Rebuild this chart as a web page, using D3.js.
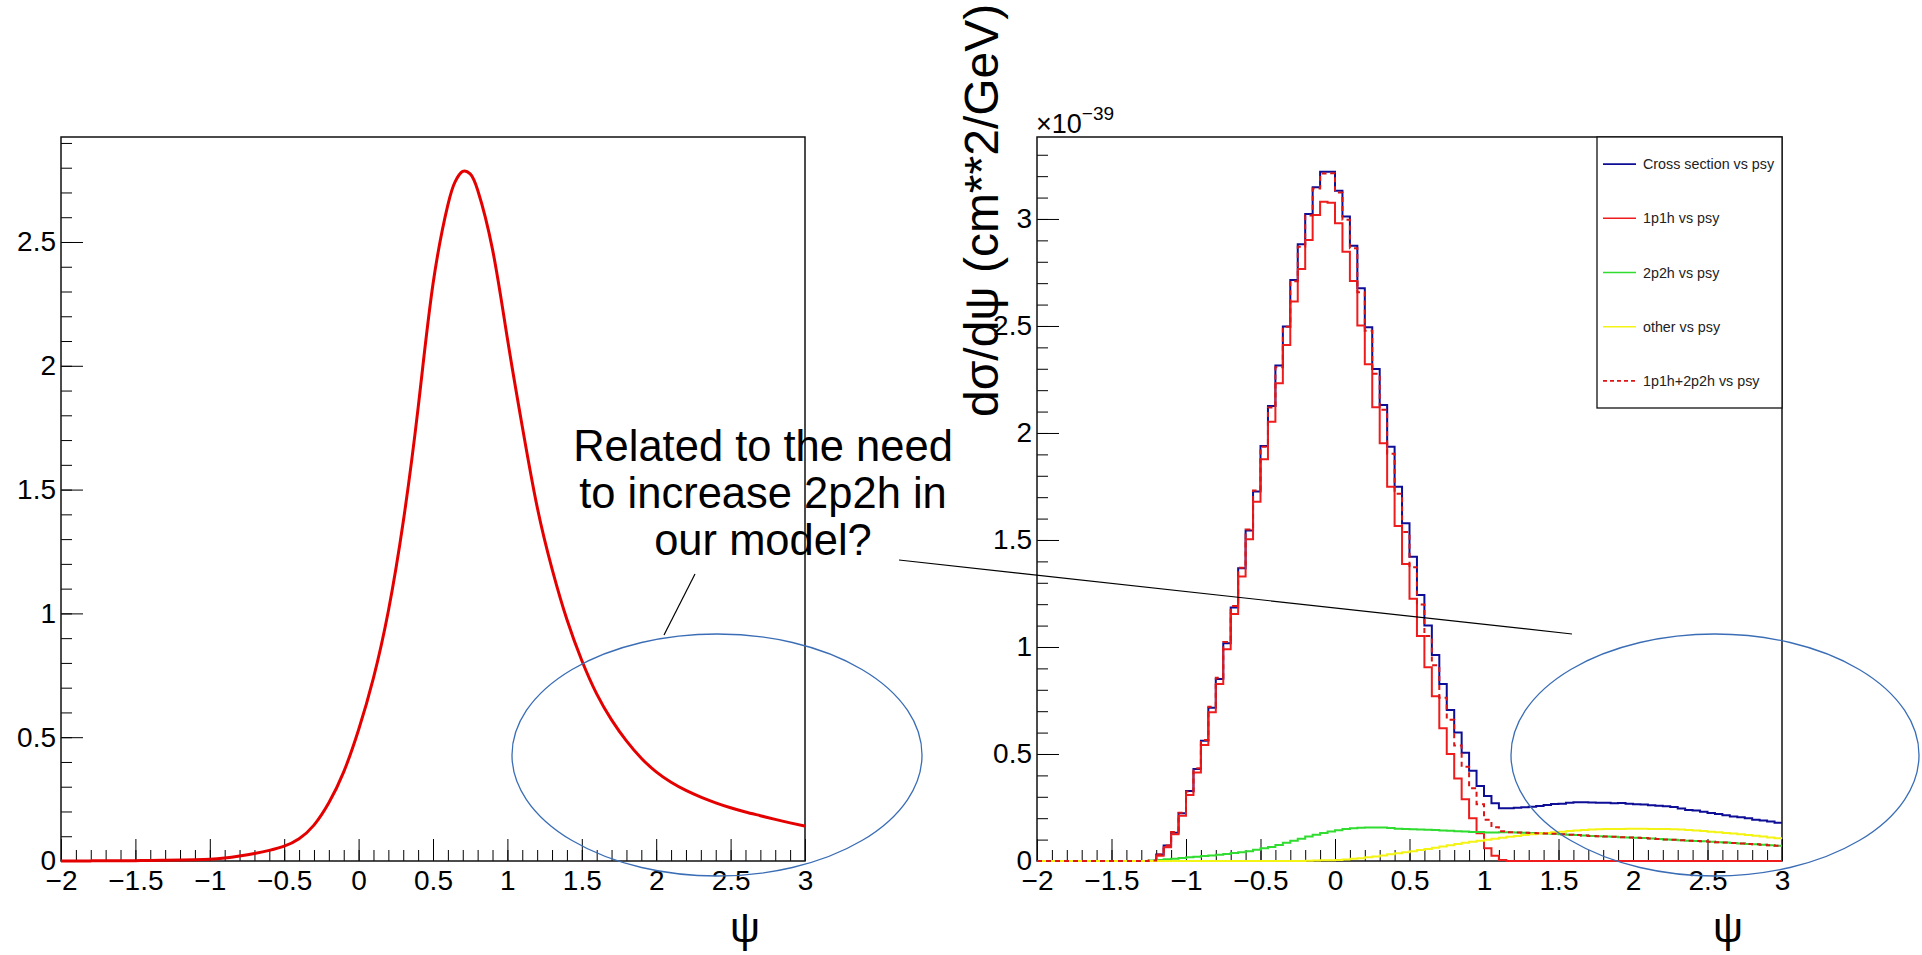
<!DOCTYPE html>
<html>
<head>
<meta charset="utf-8">
<script src="https://cdn.jsdelivr.net/npm/d3@7"></script>
<style>
  html, body { margin: 0; padding: 0; background: #fff; }
  svg { display: block; font-family: "Liberation Sans", Arial, sans-serif; }
</style>
</head>
<body>
<div id="chart"></div>
<script>
// left panel: smooth model curve
var leftPsi = [-2, -1.9, -1.8, -1.7, -1.6, -1.5, -1.4, -1.3, -1.2, -1.1, -1, -0.9, -0.8, -0.7, -0.6, -0.5, -0.4, -0.3, -0.2, -0.1,
  0, 0.1, 0.2, 0.3, 0.4, 0.5, 0.6, 0.65, 0.7, 0.75, 0.8, 0.9, 1, 1.1, 1.2, 1.3, 1.4, 1.5, 1.6, 1.7, 1.8, 1.9,
  2, 2.1, 2.2, 2.3, 2.4, 2.5, 2.6, 2.7, 2.8, 2.9, 3];
var leftValues = [0, 0, 0.0005, 0.001, 0.001, 0.0015, 0.002, 0.003, 0.004, 0.005, 0.007, 0.012, 0.02, 0.03, 0.043, 0.06, 0.09, 0.145, 0.235, 0.36,
  0.53, 0.74, 1.01, 1.37, 1.83, 2.33, 2.65, 2.745, 2.785, 2.775, 2.71, 2.47, 2.11, 1.755, 1.43, 1.18, 0.975, 0.81, 0.675, 0.57, 0.485, 0.415,
  0.36, 0.318, 0.285, 0.258, 0.235, 0.215, 0.198, 0.183, 0.168, 0.154, 0.141];

// right panel: histograms, 100 bins of 0.05 from -2 to 3 (units 1e-39)
var crossSection = [0, 0, 0, 0, 0, 0, 0, 0, 0, 0, 0, 0, 0, 0, 0, 0,
  0.03, 0.072, 0.132, 0.223, 0.327, 0.43, 0.562, 0.716, 0.85, 1.017, 1.185, 1.368, 1.544, 1.726, 1.939, 2.126, 2.315, 2.497, 2.715, 2.882,
  3.023, 3.148, 3.221, 3.221, 3.132, 3.011, 2.875, 2.676, 2.494, 2.299, 2.131, 1.936, 1.749, 1.578, 1.422, 1.243, 1.10, 0.963, 0.827, 0.706,
  0.600, 0.506, 0.422, 0.350, 0.304, 0.270,
  0.246, 0.247, 0.249, 0.251, 0.254, 0.257, 0.262, 0.266, 0.268, 0.272, 0.274, 0.275, 0.273, 0.272, 0.272, 0.270, 0.271, 0.268, 0.265,
  0.264, 0.261, 0.258, 0.256, 0.252, 0.245, 0.238, 0.236, 0.230, 0.224, 0.220, 0.214, 0.208, 0.204, 0.200, 0.193, 0.189, 0.185, 0.179];
var onePoneH = [0, 0, 0, 0, 0, 0, 0, 0, 0, 0, 0, 0, 0, 0, 0, 0,
  0.025, 0.064, 0.125, 0.212, 0.308, 0.413, 0.542, 0.695, 0.827, 0.99, 1.154, 1.329, 1.503, 1.679, 1.877, 2.053, 2.232, 2.411, 2.614, 2.766,
  2.902, 3.019, 3.081, 3.076, 2.98, 2.847, 2.71, 2.502, 2.321, 2.12, 1.952, 1.749, 1.565, 1.388, 1.225, 1.051, 0.905, 0.77, 0.62, 0.50,
  0.386, 0.288, 0.20, 0.13, 0.06, 0.025, 0.005,
  0, 0, 0, 0, 0, 0, 0, 0, 0, 0, 0, 0, 0, 0, 0, 0, 0, 0, 0, 0, 0, 0, 0, 0, 0, 0, 0, 0, 0, 0, 0, 0, 0, 0, 0, 0, 0];
var twoPtwoH = [0, 0, 0, 0, 0, 0, 0, 0, 0, 0, 0, 0, 0, 0, 0,
  0.002, 0.005, 0.008, 0.011, 0.014, 0.017, 0.02, 0.023, 0.026, 0.029, 0.033, 0.037, 0.041, 0.046, 0.052, 0.059, 0.066, 0.075, 0.085, 0.095,
  0.104, 0.114, 0.123, 0.131, 0.138, 0.144, 0.149, 0.153, 0.155, 0.157, 0.157, 0.156, 0.154, 0.151, 0.149, 0.148, 0.147, 0.146, 0.145, 0.143,
  0.141, 0.139, 0.138, 0.136, 0.135, 0.133, 0.133, 0.134, 0.134, 0.133, 0.132, 0.131, 0.13, 0.129, 0.127, 0.125, 0.123, 0.121, 0.119, 0.117,
  0.116, 0.114, 0.113, 0.111, 0.11, 0.109, 0.107, 0.105, 0.103, 0.101, 0.099, 0.097, 0.095, 0.094, 0.092, 0.09, 0.088, 0.086, 0.084, 0.082,
  0.08, 0.078, 0.076, 0.074, 0.071];
var otherXsec = [0, 0, 0, 0, 0, 0, 0, 0, 0, 0, 0, 0, 0, 0, 0, 0, 0, 0, 0, 0, 0, 0, 0, 0, 0, 0, 0, 0, 0, 0, 0, 0, 0, 0, 0, 0,
  0.001, 0.002, 0.003, 0.004, 0.005, 0.007, 0.01, 0.013, 0.017, 0.021, 0.026, 0.031, 0.036, 0.041, 0.046, 0.051, 0.056, 0.062, 0.068, 0.074,
  0.08, 0.085, 0.09, 0.095, 0.099, 0.104, 0.109, 0.113, 0.117, 0.121, 0.125, 0.128, 0.131, 0.134, 0.137, 0.14, 0.143, 0.145, 0.147, 0.148,
  0.149, 0.15, 0.15, 0.151, 0.151, 0.151, 0.15, 0.15, 0.149, 0.148, 0.147, 0.145, 0.143, 0.14, 0.137, 0.134, 0.131, 0.128, 0.125, 0.122,
  0.118, 0.114, 0.11, 0.106];
var onePplusTwoP = [0, 0, 0, 0, 0, 0, 0, 0, 0, 0, 0, 0, 0, 0, 0,
  0.002, 0.03, 0.072, 0.136, 0.226, 0.325, 0.433, 0.565, 0.721, 0.856, 1.023, 1.191, 1.37, 1.549, 1.731, 1.936, 2.119, 2.307, 2.496, 2.709,
  2.87, 3.016, 3.142, 3.212, 3.214, 3.124, 2.996, 2.863, 2.657, 2.478, 2.277, 2.108, 1.903, 1.716, 1.537, 1.373, 1.198, 1.051, 0.915, 0.763,
  0.66, 0.54, 0.44, 0.34, 0.265, 0.193, 0.158, 0.139,
  0.134, 0.133, 0.132, 0.131, 0.13, 0.129, 0.127, 0.125, 0.123, 0.121, 0.119, 0.117, 0.116, 0.114, 0.113, 0.111, 0.11, 0.109, 0.107, 0.105,
  0.103, 0.101, 0.099, 0.097, 0.095, 0.094, 0.092, 0.09, 0.088, 0.086, 0.084, 0.082, 0.08, 0.078, 0.076, 0.074, 0.071];

var legendLabels = ['Cross section vs psy', '1p1h vs psy', '2p2h vs psy', 'other vs psy', '1p1h+2p2h vs psy'];
var noteLines = ['Related to the need', 'to increase 2p2h in', 'our model?'];

(function(window, d3){
  'use strict';

  var W = 1922, H = 955;
  var fmt = d3.format('~g');
  var binWidth = 0.05;

  var svg = d3.select('#chart').append('svg')
    .attr('width', W)
    .attr('height', H);

  svg.append('rect').attr('width', W).attr('height', H).attr('fill', '#fff');

  // draws frame + ROOT style inward ticks
  var drawFrame = function(x, y, yMajor, yMinor) {
    var g = svg.append('g');
    var x0 = x.range()[0], x1 = x.range()[1];
    var y0 = y.range()[0], y1 = y.range()[1];

    var xMinor = d3.range(0, 51).map(function(i){ return -2 + i * 0.1; });
    var xMajor = d3.range(0, 11).map(function(i){ return -2 + i * 0.5; });

    g.append('g').attr('transform', 'translate(0,' + y0 + ')')
      .call(d3.axisBottom(x).tickValues(xMinor).tickSize(-11).tickFormat(''));
    g.append('g').attr('class', 'xlab').attr('transform', 'translate(0,' + y0 + ')')
      .call(d3.axisBottom(x).tickValues(xMajor).tickSize(-22).tickPadding(9).tickFormat(fmt));

    g.append('g').attr('transform', 'translate(' + x0 + ',0)')
      .call(d3.axisLeft(y).tickValues(yMinor).tickSize(-11).tickFormat(''));
    g.append('g').attr('class', 'ylab').attr('transform', 'translate(' + x0 + ',0)')
      .call(d3.axisLeft(y).tickValues(yMajor).tickSize(-22).tickPadding(5).tickFormat(fmt));

    g.selectAll('.domain').remove();
    g.selectAll('.tick line').attr('stroke', '#000').attr('stroke-width', 1);
    g.selectAll('.tick text')
      .attr('font-family', '"Liberation Sans", Arial, sans-serif')
      .attr('font-size', 28)
      .attr('fill', '#000');

    g.append('rect')
      .attr('x', x0).attr('y', y1)
      .attr('width', x1 - x0).attr('height', y0 - y1)
      .attr('fill', 'none')
      .attr('stroke', '#111')
      .attr('stroke-width', 1.5);
  };

  // ---------- left panel ----------
  var xL = d3.scaleLinear().domain([-2, 3]).range([61, 805]);
  var yL = d3.scaleLinear().domain([0, 2.924]).range([861, 137]);

  drawFrame(xL, yL, d3.range(0, 6).map(function(i){ return i * 0.5; }),
    d3.range(0, 30).map(function(i){ return i * 0.1; }));

  var leftLine = d3.line()
    .x(function(d){ return xL(d[0]); })
    .y(function(d){ return yL(d[1]); })
    .curve(d3.curveNatural);

  svg.append('path')
    .datum(d3.zip(leftPsi, leftValues))
    .attr('d', leftLine)
    .attr('fill', 'none')
    .attr('stroke', '#e50000')
    .attr('stroke-width', 3);

  svg.append('text')
    .attr('x', 745).attr('y', 942)
    .attr('text-anchor', 'middle')
    .attr('font-size', 42)
    .text('ψ');

  // ---------- right panel ----------
  var xR = d3.scaleLinear().domain([-2, 3]).range([1037, 1782]);
  var yR = d3.scaleLinear().domain([0, 3.383]).range([861, 137]);

  drawFrame(xR, yR, d3.range(0, 7).map(function(i){ return i * 0.5; }),
    d3.range(0, 34).map(function(i){ return i * 0.1; }));

  var stepLine = d3.line()
    .x(function(d){ return xR(d[0]); })
    .y(function(d){ return yR(d[1]); })
    .curve(d3.curveStepAfter);

  var toSteps = function(vals) {
    var pts = vals.map(function(v, i){ return [-2 + i * binWidth, v]; });
    pts.push([3, vals[vals.length - 1]]);
    return pts;
  };

  var series = [
    { vals: crossSection, color: '#0d0d96', dash: null },
    { vals: onePoneH, color: '#ee1c1c', dash: null },
    { vals: twoPtwoH, color: '#2fdc2f', dash: null },
    { vals: otherXsec, color: '#f4f414', dash: null },
    { vals: onePplusTwoP, color: '#dd1515', dash: '5,4' }
  ];

  series.forEach(function(s){
    svg.append('path')
      .datum(toSteps(s.vals))
      .attr('d', stepLine)
      .attr('fill', 'none')
      .attr('stroke', s.color)
      .attr('stroke-width', 2)
      .attr('stroke-dasharray', s.dash);
  });

  // exponent label
  var expo = svg.append('text')
    .attr('x', 1036).attr('y', 133)
    .attr('font-size', 27);
  expo.append('tspan').text('×10');
  expo.append('tspan').attr('dy', -13).attr('font-size', 19).text('−39');

  // y title
  svg.append('text')
    .attr('transform', 'translate(998,417) rotate(-90)')
    .attr('font-size', 48)
    .text('dσ/dψ (cm**2/GeV)');

  svg.append('text')
    .attr('x', 1728).attr('y', 942)
    .attr('text-anchor', 'middle')
    .attr('font-size', 42)
    .text('ψ');

  // legend
  var leg = svg.append('g');
  var ly = d3.scaleBand().domain(legendLabels).range([137, 408]);
  leg.append('rect')
    .attr('x', 1597).attr('y', 137)
    .attr('width', 1782 - 1597).attr('height', 408 - 137)
    .attr('fill', '#fff')
    .attr('stroke', '#111')
    .attr('stroke-width', 1.3);

  var items = leg.selectAll('g.item')
    .data(legendLabels)
    .enter().append('g')
    .attr('class', 'item')
    .attr('transform', function(d){ return 'translate(0,' + (ly(d) + ly.bandwidth() / 2) + ')'; });

  items.append('line')
    .attr('x1', 1603).attr('x2', 1636)
    .attr('y1', 0).attr('y2', 0)
    .attr('stroke', function(d, i){ return series[i].color; })
    .attr('stroke-width', 1.6)
    .attr('stroke-dasharray', function(d, i){ return series[i].dash ? '4,3' : null; });

  items.append('text')
    .attr('x', 1643).attr('y', 5)
    .attr('font-size', 14.3)
    .attr('fill', '#222')
    .text(String);

  // ---------- annotations ----------
  var note = svg.append('g');
  note.append('ellipse')
    .attr('cx', 717).attr('cy', 755).attr('rx', 205).attr('ry', 121)
    .attr('fill', 'none').attr('stroke', '#3a6db5').attr('stroke-width', 1.3);
  note.append('ellipse')
    .attr('cx', 1715).attr('cy', 755).attr('rx', 204).attr('ry', 121)
    .attr('fill', 'none').attr('stroke', '#3a6db5').attr('stroke-width', 1.3);

  note.append('line')
    .attr('x1', 695).attr('y1', 574).attr('x2', 664).attr('y2', 635)
    .attr('stroke', '#000').attr('stroke-width', 1.2);
  note.append('line')
    .attr('x1', 899).attr('y1', 560).attr('x2', 1572).attr('y2', 634)
    .attr('stroke', '#000').attr('stroke-width', 1.2);

  note.selectAll('text')
    .data(noteLines)
    .enter().append('text')
    .attr('x', 763)
    .attr('y', function(d, i){ return 461 + i * 47; })
    .attr('text-anchor', 'middle')
    .attr('font-size', 43.5)
    .attr('fill', '#000')
    .text(String);

})(window, window.d3);
</script>
</body>
</html>
